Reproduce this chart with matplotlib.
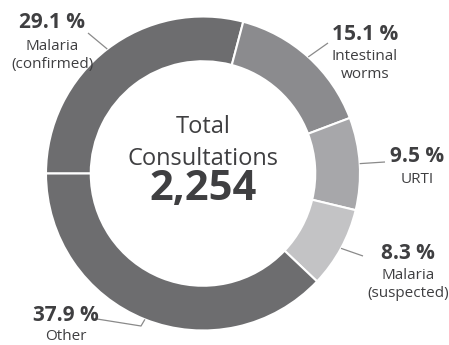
import numpy as np
import matplotlib
matplotlib.use("Agg")
import matplotlib.pyplot as plt

# data
categories = ["Malaria\n(confirmed)", "Intestinal\nworms", "URTI", "Malaria\n(suspected)", "Other"]
shares = [29.1, 15.1, 9.5, 8.3, 37.9]
colors = ["#6d6d6f", "#8b8b8e", "#a7a7aa", "#c3c3c5", "#6d6d6f"]
total = 2254

W, H = 449, 345
fig = plt.figure(figsize=(W / 100, H / 100), dpi=100)
ax = fig.add_axes([0, 0, 1, 1])

cx, cy, R = 203, 171.5, 157
wedges, _ = ax.pie(shares, colors=colors, startangle=180, counterclock=False,
                   center=(cx, cy), radius=R, frame=True,
                   wedgeprops=dict(width=R * 0.285, edgecolor="white", linewidth=1.5))
ax.set_xlim(0, W); ax.set_ylim(0, H); ax.set_aspect("equal"); ax.axis("off")

txt = "#3f3f41"
line_c = "#8a8a8a"
fam = ["Open Sans", "DejaVu Sans"]

# label anchors (image coords: x, baseline y of pct; line end points)
lab_pos = [(52, 28), (365, 40), (417, 162), (408, 259), (66, 321)]
line_end = [[(88, 33)], [(328, 43)], [(385, 162)], [(363, 256)], [(141, 326), (97, 319)]]
gap = [22, 20, 21, 20, 19]

for w, cat, s, (lx, ly), ends, g in zip(wedges, categories, shares, lab_pos, line_end, gap):
    ang = np.deg2rad((w.theta1 + w.theta2) / 2)
    p0 = (cx + R * np.cos(ang), cy + R * np.sin(ang))
    pts = [p0] + [(x, H - y) for x, y in ends]
    ax.plot([p[0] for p in pts], [p[1] for p in pts], color=line_c, lw=0.9,
            solid_capstyle="butt")
    ax.text(lx, H - ly, f"{s} %", ha="center", va="baseline", fontsize=15,
            fontweight="bold", color=txt, family=fam)
    for i, part in enumerate(cat.split("\n")):
        ax.text(lx, H - ly - g - i * 18, part, ha="center", va="baseline",
                fontsize=11, color=txt, family=fam)

ax.text(cx, H - 133, "Total", ha="center", va="baseline", fontsize=17, color=txt, family=fam)
ax.text(cx, H - 165, "Consultations", ha="center", va="baseline", fontsize=17, color=txt, family=fam)
ax.text(cx, H - 200, f"{total:,}", ha="center", va="baseline", fontsize=30,
        fontweight="bold", color=txt, family=fam)

fig.savefig("out.png", dpi=100, facecolor="white")
